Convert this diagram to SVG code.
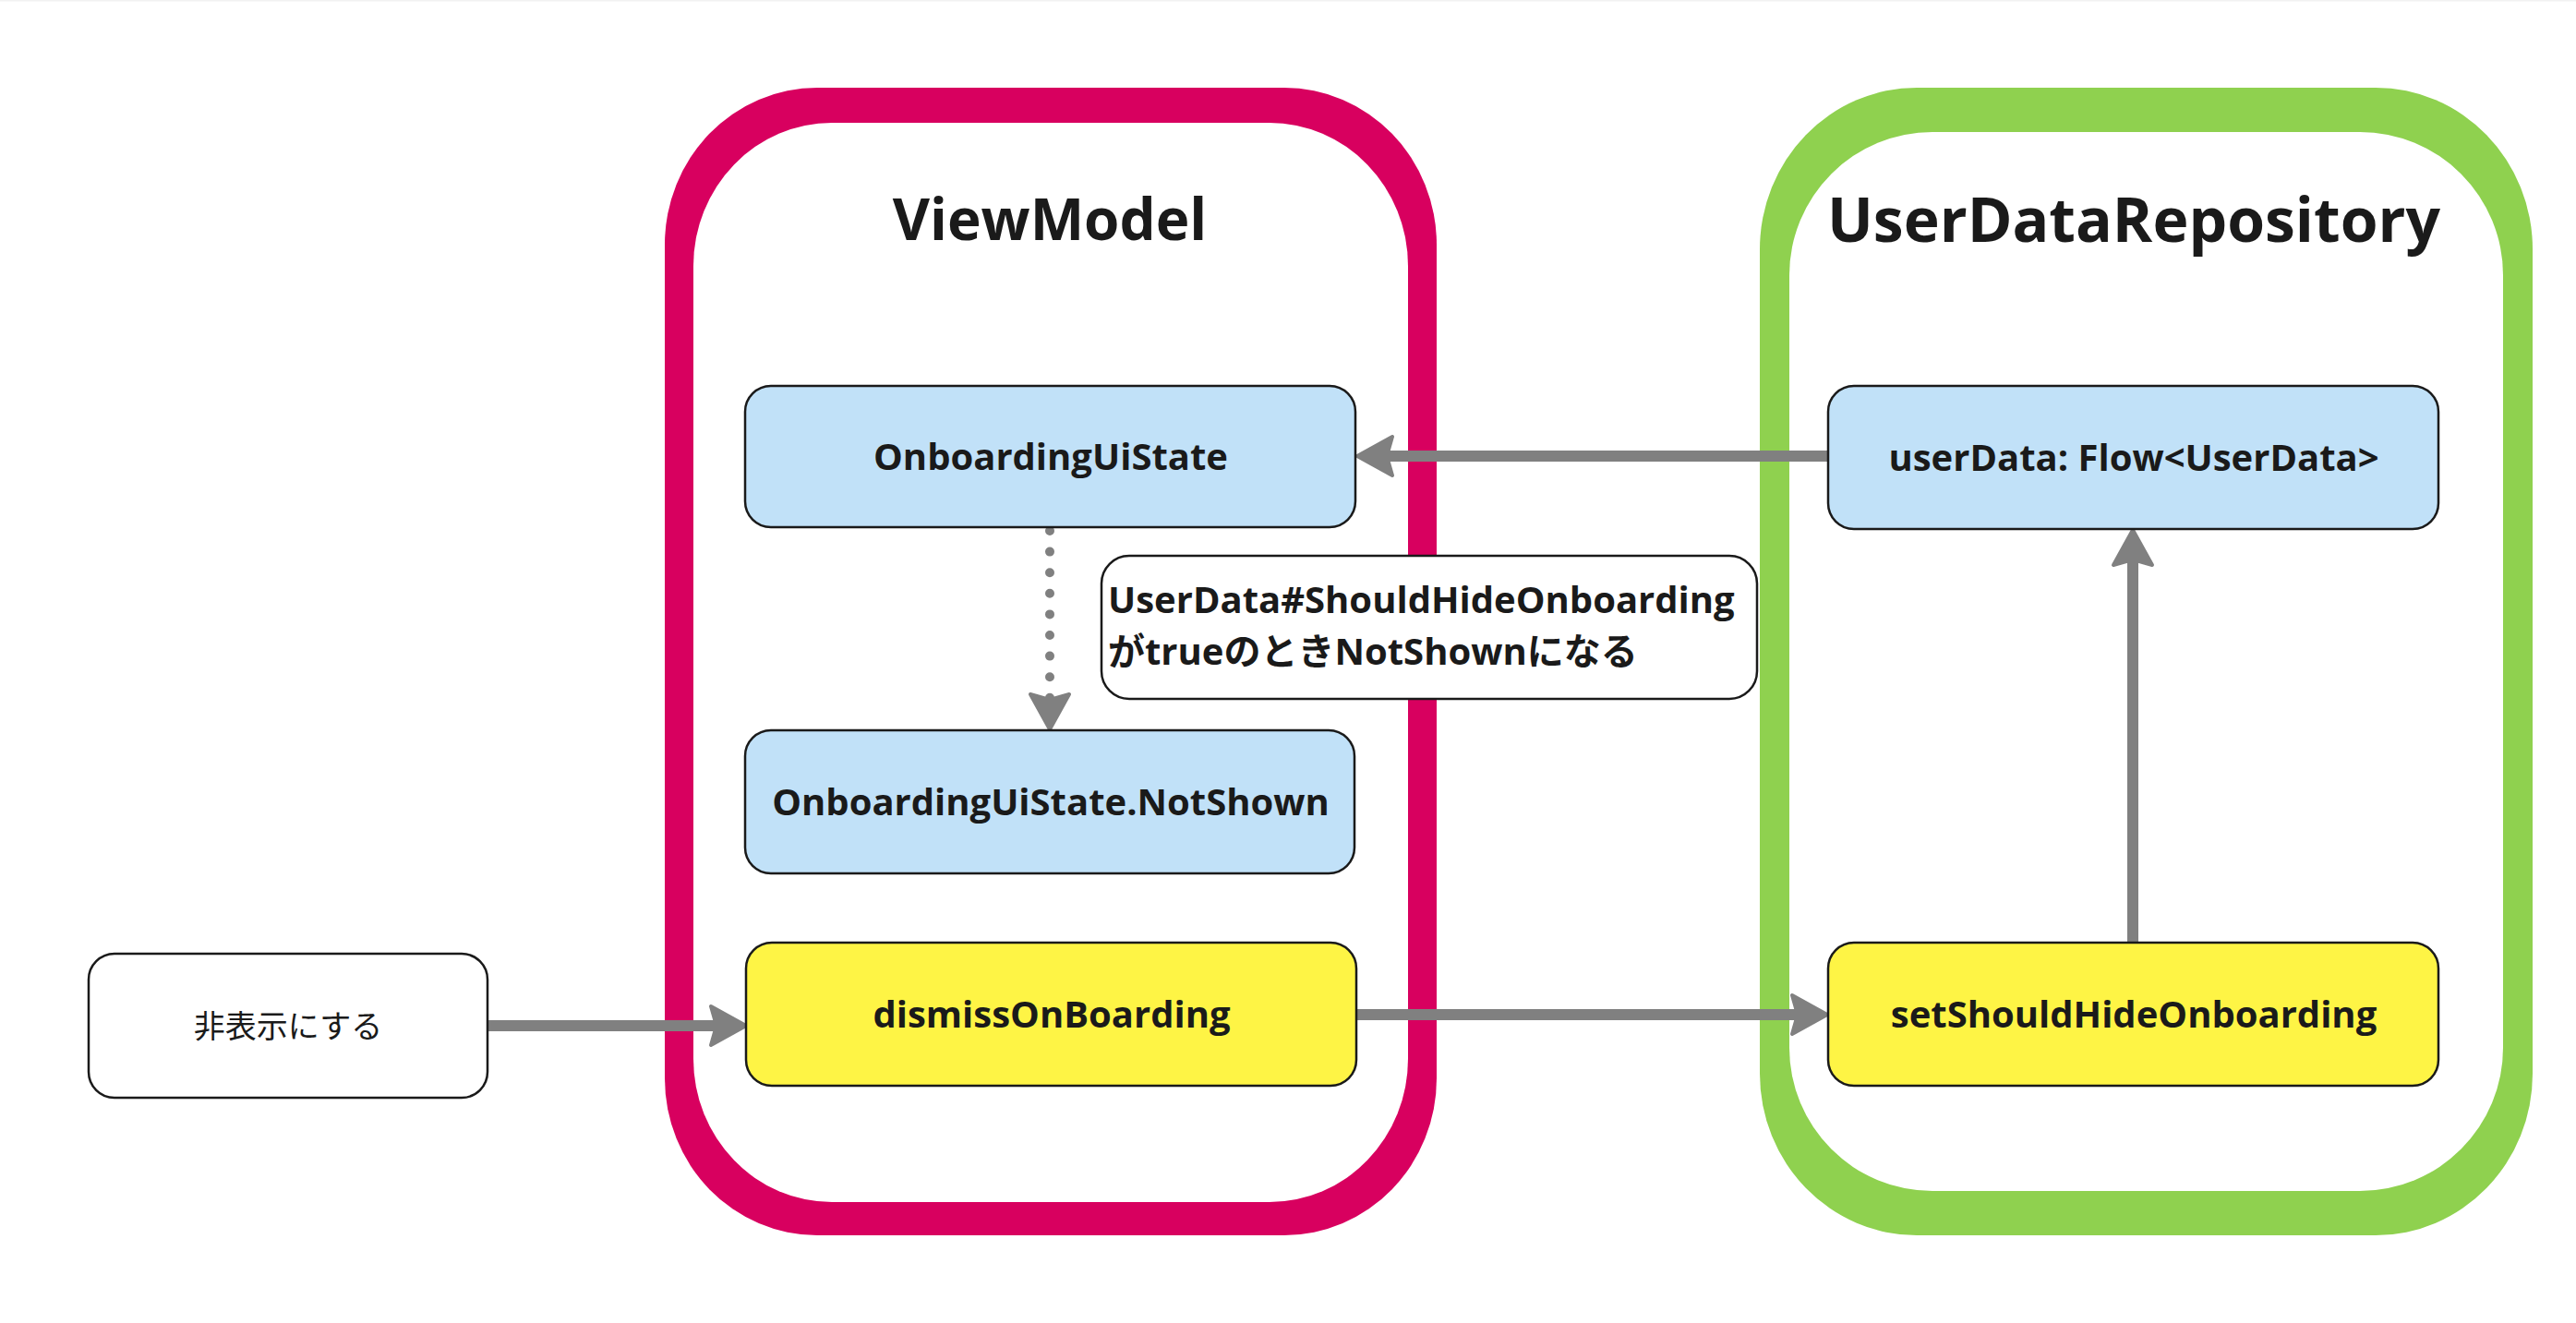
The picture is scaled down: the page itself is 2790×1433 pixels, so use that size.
<svg xmlns="http://www.w3.org/2000/svg" width="2790" height="1433" viewBox="0 0 2790 1433">
  <style>
    .lbl { font-family: "Open Sans", "Noto Sans", "Noto Sans CJK JP", sans-serif; font-weight: 700; fill: #1a1a1a; }
    .title { font-size: 62px; text-anchor: middle; }
    .node-text { font-size: 40px; text-anchor: middle; }
    .box { stroke: #1a1a1a; stroke-width: 2.5; }
    .blue { fill: #c1e1f8; }
    .yellow { fill: #fef445; }
    .white { fill: #ffffff; }
    .conn { stroke: #808080; stroke-width: 12; fill: none; }
    .dotted { stroke: #808080; stroke-width: 10; stroke-linecap: round; stroke-dasharray: 0 22.6; fill: none; }
  </style>
  <defs>
    <marker id="arrow" viewBox="0 0 46 48" markerWidth="46" markerHeight="48" markerUnits="userSpaceOnUse" refX="16" refY="24" orient="auto">
      <path d="M 43 24 L 5 3 L 11 24 L 5 45 Z" fill="#808080" stroke="#808080" stroke-width="4" stroke-linejoin="round"/>
    </marker>
  </defs>
  <rect x="0" y="0" width="2790" height="1433" fill="#ffffff"/>
  <rect x="0" y="0" width="2790" height="1.5" fill="#f2f2f2"/>

  <g id="frame-viewmodel">
    <rect x="720" y="95" width="836" height="1243" rx="165" ry="170" fill="#d8005f"/>
    <rect x="751" y="133" width="774" height="1169" rx="150" ry="155" fill="#ffffff"/>
    <text class="lbl title" x="1137" y="260">ViewModel</text>
  </g>

  <g id="frame-repository">
    <rect x="1906" y="95" width="837" height="1243" rx="170" ry="175" fill="#8fd14f"/>
    <rect x="1938" y="143" width="773" height="1147" rx="155" ry="155" fill="#ffffff"/>
    <text class="lbl title" x="2311" y="262" style="font-size:66px">UserDataRepository</text>
  </g>

  <g id="connectors">
    <line class="conn" x1="1980" y1="494" x2="1497" y2="494" marker-end="url(#arrow)"/>
    <line class="dotted" x1="1137" y1="575" x2="1137" y2="763"/>
    <line class="conn" x1="1137" y1="757" x2="1137" y2="763" stroke-opacity="0" marker-end="url(#arrow)"/>
    <line class="conn" x1="528" y1="1111" x2="781" y2="1111" marker-end="url(#arrow)"/>
    <line class="conn" x1="1469" y1="1099" x2="1952" y2="1099" marker-end="url(#arrow)"/>
    <line class="conn" x1="2310" y1="1021" x2="2310" y2="601" marker-end="url(#arrow)"/>
  </g>

  <g id="node-onboarding-ui-state">
    <rect class="box blue" x="807" y="418" width="661" height="153" rx="28"/>
    <text class="lbl node-text" x="1138" y="509">OnboardingUiState</text>
  </g>

  <g id="node-not-shown">
    <rect class="box blue" x="807" y="791" width="660" height="155" rx="28"/>
    <text class="lbl node-text" x="1138" y="883">OnboardingUiState.NotShown</text>
  </g>

  <g id="node-dismiss">
    <rect class="box yellow" x="808" y="1021" width="661" height="155" rx="28"/>
    <text class="lbl node-text" x="1139" y="1113">dismissOnBoarding</text>
  </g>

  <g id="node-user-data">
    <rect class="box blue" x="1980" y="418" width="661" height="155" rx="28"/>
    <text class="lbl node-text" x="2311" y="510">userData: Flow&lt;UserData&gt;</text>
  </g>

  <g id="node-set-should-hide">
    <rect class="box yellow" x="1980" y="1021" width="661" height="155" rx="28"/>
    <text class="lbl node-text" x="2311" y="1113">setShouldHideOnboarding</text>
  </g>

  <g id="node-hide">
    <rect class="box white" x="96" y="1033" width="432" height="156" rx="28"/>
    <text x="312" y="1124" text-anchor="middle" style="font-family:'Noto Sans CJK JP', sans-serif; font-size:34px; font-weight:400; fill:#1a1a1a">非表示にする</text>
  </g>

  <g id="node-note">
    <rect class="box white" x="1193" y="602" width="710" height="155" rx="30"/>
    <text class="lbl" x="1200" y="664" style="font-size:40px">UserData#ShouldHideOnboarding</text>
    <text class="lbl" x="1200" y="720" style="font-size:40px">がtrueのときNotShownになる</text>
  </g>
</svg>
